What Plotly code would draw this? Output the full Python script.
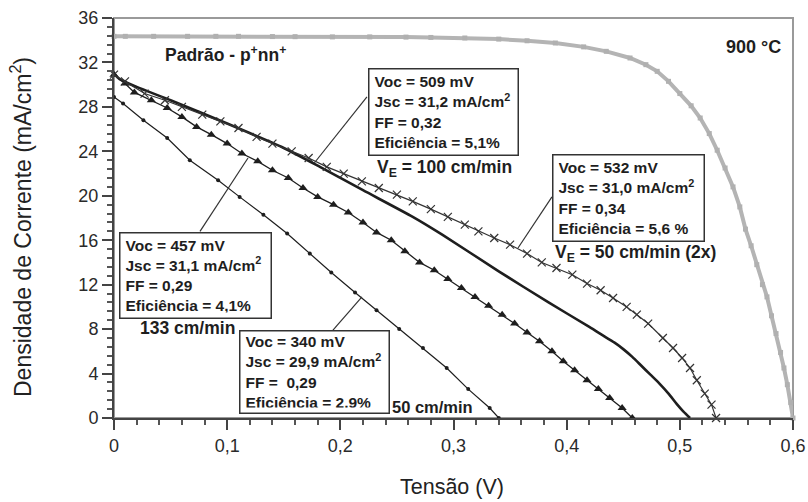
import plotly.graph_objects as go

# ---- data (Tensão V, Densidade de corrente mA/cm2) ----
padrao_v = [0, 0.01, 0.035, 0.065, 0.09, 0.11, 0.14, 0.16, 0.193, 0.226, 0.258, 0.28, 0.31,
            0.34, 0.365, 0.39, 0.415, 0.435, 0.456, 0.47, 0.48, 0.49, 0.5, 0.51, 0.518, 0.526,
            0.533, 0.54, 0.547, 0.553, 0.558, 0.563, 0.568, 0.573, 0.577, 0.581, 0.585, 0.589,
            0.592, 0.595, 0.598, 0.6]
padrao_j = [34.35, 34.35, 34.35, 34.35, 34.35, 34.35, 34.33, 34.32, 34.3, 34.3, 34.28, 34.25, 34.2,
            34.1, 33.95, 33.75, 33.4, 33.0, 32.4, 31.8, 31.2, 30.3, 29.2, 28.1, 27.0, 25.6,
            24.1, 22.5, 20.8, 19.0, 17.0, 15.5, 13.8, 12.0, 10.9, 9.2, 7.6, 5.9,
            4.5, 3.0, 1.4, 0]

v50x2_v = [0, 0.0097, 0.027, 0.045, 0.06, 0.078, 0.094, 0.11, 0.126, 0.14, 0.157, 0.172, 0.188,
           0.203, 0.219, 0.234, 0.25, 0.264, 0.28, 0.295, 0.31, 0.322, 0.336, 0.35, 0.365, 0.378,
           0.391, 0.405, 0.418, 0.43, 0.441, 0.453, 0.462, 0.472, 0.485, 0.494, 0.502, 0.509,
           0.515, 0.522, 0.528, 0.532]
v50x2_j = [30.9, 30.3, 29.2, 28.6, 28.0, 27.3, 26.7, 26.1, 25.3, 24.7, 24.0, 23.4, 22.6,
           22.0, 21.3, 20.7, 20.1, 19.5, 18.8, 18.1, 17.4, 16.8, 16.2, 15.6, 14.8, 14.0,
           13.5, 12.9, 12.1, 11.5, 10.8, 10.0, 9.3, 8.5, 7.2, 6.3, 5.4, 4.5,
           3.4, 2.2, 1.2, 0]

v100_v = [0, 0.005, 0.02, 0.05, 0.1, 0.15, 0.182, 0.22, 0.264, 0.29, 0.34, 0.384, 0.42, 0.434,
          0.442, 0.45, 0.458, 0.466, 0.474, 0.482, 0.49, 0.497, 0.503, 0.509]
v100_j = [31.0, 30.5, 29.8, 28.6, 26.5, 24.3, 22.6, 20.5, 18.1, 16.5, 13.2, 10.4, 8.2, 7.3,
          6.8, 6.2, 5.5, 4.7, 3.9, 3.1, 2.2, 1.3, 0.6, 0]

v133_v = [0, 0.0097, 0.018, 0.033, 0.047, 0.06, 0.073, 0.086, 0.1, 0.113, 0.127, 0.14, 0.154,
          0.167, 0.18, 0.194, 0.207, 0.22, 0.232, 0.245, 0.257, 0.27, 0.283, 0.295, 0.307,
          0.319, 0.331, 0.343, 0.354, 0.365, 0.376, 0.387, 0.397, 0.407, 0.418, 0.428, 0.438,
          0.449, 0.458]
v133_j = [30.9, 30.1, 29.3, 28.6, 27.9, 27.1, 26.2, 25.5, 24.7, 23.8, 23.1, 22.3, 21.6,
          20.7, 19.9, 19.2, 18.5, 17.6, 16.7, 16.0, 15.0, 14.0, 13.3, 12.5, 11.7,
          10.9, 10.1, 9.3, 8.5, 7.7, 6.9, 6.0, 5.1, 4.3, 3.4, 2.6, 1.8,
          0.9, 0]

v50_v = [0, 0.008, 0.026, 0.047, 0.067, 0.092, 0.111, 0.132, 0.153, 0.173, 0.192, 0.213,
         0.232, 0.252, 0.273, 0.294, 0.313, 0.332, 0.34]
v50_j = [28.9, 28.3, 26.8, 25.2, 23.2, 21.4, 19.9, 18.3, 16.6, 14.8, 13.1, 11.3,
         9.7, 8.0, 6.3, 4.5, 2.6, 0.9, 0]

x_ticks = [0, 0.1, 0.2, 0.3, 0.4, 0.5, 0.6]
x_labels = ["0", "0,1", "0,2", "0,3", "0,4", "0,5", "0,6"]
y_ticks = [0, 4, 8, 12, 16, 20, 24, 28, 32, 36]

box_texts = [
    "Voc = 509 mV<br>Jsc = 31,2 mA/cm<sup>2</sup><br>FF = 0,32<br>Eficiência = 5,1%",
    "Voc = 532 mV<br>Jsc = 31,0 mA/cm<sup>2</sup><br>FF = 0,34<br>Eficiência = 5,6 %",
    "Voc = 457 mV<br>Jsc = 31,1 mA/cm<sup>2</sup><br>FF = 0,29<br>Eficiência = 4,1%",
    "Voc = 340 mV<br>Jsc = 29,9 mA/cm<sup>2</sup><br>FF =  0,29<br>Eficiência = 2,9%",
]
box_pos = [(0.2244, 31.5), (0.387, 23.76), (0.0044, 16.74), (0.1105, 7.92)]
box_size = [(150, 87), (152, 87), (152, 86), (150, 83)]
leaders = [((0.177, 22.95), (0.2235, 28.9)), ((0.357, 15.3), (0.387, 19.9)),
           ((0.076, 16.8), (0.1184, 23.4)), ((0.1935, 7.9), (0.2191, 10.9))]

FONT = "Liberation Sans, Arial, Helvetica, sans-serif"
INK = "#1e1e1e"

fig = go.Figure()

fig.add_trace(go.Scatter(x=padrao_v, y=padrao_j, mode="lines+markers",
                         line=dict(color="#b4b4b4", width=4),
                         marker=dict(symbol="square", size=5, color="#b0b0b0"),
                         cliponaxis=False, showlegend=False))
fig.add_trace(go.Scatter(x=v50_v, y=v50_j, mode="lines+markers",
                         line=dict(color=INK, width=1.2),
                         marker=dict(symbol="circle", size=4, color=INK),
                         cliponaxis=False, showlegend=False))
fig.add_trace(go.Scatter(x=v133_v, y=v133_j, mode="lines+markers",
                         line=dict(color=INK, width=1.3),
                         marker=dict(symbol="triangle-up", size=8, color=INK),
                         cliponaxis=False, showlegend=False))
fig.add_trace(go.Scatter(x=v100_v, y=v100_j, mode="lines",
                         line=dict(color=INK, width=2.6, shape="spline", smoothing=0.6),
                         cliponaxis=False, showlegend=False))
fig.add_trace(go.Scatter(x=v50x2_v, y=v50x2_j, mode="lines+markers",
                         line=dict(color="#333333", width=1.2),
                         marker=dict(symbol="x-thin", size=8,
                                     line=dict(color="#333333", width=1.2)),
                         cliponaxis=False, showlegend=False))

annotations = []
for txt, (bx, by), (w, h) in zip(box_texts, box_pos, box_size):
    annotations.append(dict(x=bx, y=by, xref="x", yref="y", xanchor="left", yanchor="top",
                            text=txt, showarrow=False, align="left", valign="middle",
                            width=w - 12, height=h - 12, borderpad=5,
                            bordercolor="#333333", borderwidth=1.5, bgcolor="white",
                            font=dict(family=FONT, size=15.5, color=INK, weight="bold")))

labels = [
    ("V<sub>E</sub> = 100 cm/min", 0.2306, 22.5, 17.5),
    ("V<sub>E</sub> = 50 cm/min (2x)", 0.388, 14.85, 17.5),
    ("133 cm/min", 0.0212, 8.1, 17.5),
    ("50 cm/min", 0.2439, 1.0, 16.5),
    ("Padrão - p<sup>+</sup>nn<sup>+</sup>", 0.0433, 32.76, 17.5),
]
for t, lx, ly, fs in labels:
    annotations.append(dict(x=lx, y=ly, xref="x", yref="y", xanchor="left", yanchor="middle",
                            text=t, showarrow=False,
                            font=dict(family=FONT, size=fs, color=INK, weight="bold")))
annotations.append(dict(x=0.591, y=33.4, xref="x", yref="y", xanchor="right", yanchor="middle",
                        text="900 °C", showarrow=False,
                        font=dict(family=FONT, size=18, color=INK, weight="bold")))

# axis titles
annotations.append(dict(x=0.5, y=0, xref="paper", yref="paper", xanchor="center", yanchor="middle",
                        yshift=-69, xshift=-2, text="Tensão (V)", showarrow=False,
                        font=dict(family=FONT, size=21.5, color="#222222")))
annotations.append(dict(x=0, y=0.5, xref="paper", yref="paper", xanchor="center", yanchor="middle",
                        xshift=-93, yshift=-9, text="Densidade de Corrente (mA/cm<sup>2</sup>)",
                        textangle=-90, showarrow=False,
                        font=dict(family=FONT, size=23, color="#222222")))

shapes = [dict(type="rect", xref="paper", yref="paper", x0=0, y0=0, x1=1, y1=1,
               line=dict(color="#9a9a9a", width=2), layer="below")]
for (p0, p1) in leaders:
    shapes.append(dict(type="line", xref="x", yref="y", x0=p0[0], y0=p0[1], x1=p1[0], y1=p1[1],
                       line=dict(color="#333333", width=1.2)))

fig.update_layout(
    width=808, height=502,
    margin=dict(l=114, r=15, t=18, b=84, autoexpand=False),
    paper_bgcolor="white", plot_bgcolor="white",
    font=dict(family=FONT, color="#333333"),
    annotations=annotations, shapes=shapes,
    xaxis=dict(range=[0, 0.6], tickvals=x_ticks, ticktext=x_labels, automargin=False,
               showgrid=False, zeroline=False, showline=True, linecolor="#444444", linewidth=2,
               ticks="outside", ticklen=10, tickwidth=2, tickcolor="#444444",
               minor=dict(dtick=0.02, ticks="outside", ticklen=5, tickwidth=1.5, tickcolor="#555555"),
               tickfont=dict(size=18, color="#2a2a2a")),
    yaxis=dict(range=[0, 36], tickvals=y_ticks, automargin=False,
               showgrid=False, zeroline=False, showline=True, linecolor="#444444", linewidth=2,
               ticks="outside", ticklen=10, tickwidth=2, tickcolor="#444444",
               minor=dict(dtick=0.8, ticks="outside", ticklen=5, tickwidth=1.5, tickcolor="#555555"),
               tickfont=dict(size=18, color="#2a2a2a")),
)

fig.write_html("out.html")
